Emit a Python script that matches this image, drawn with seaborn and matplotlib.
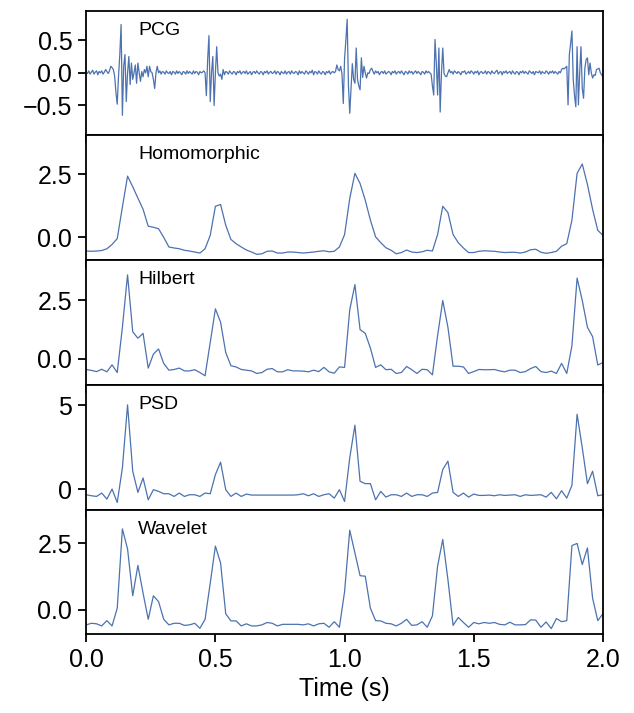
import matplotlib
matplotlib.use("Agg")
import matplotlib.pyplot as plt
import numpy as np
import pandas as pd
import seaborn as sns

# sample rates (Hz)
fs_pcg = 200
fs_env = 50

# raw PCG at 200 Hz
pcg = [
    0.02, -0.01, 0.03, -0.02, 0.01, 0.04, -0.02, 0.01, 0.03, -0.03, 0.02, 0.0, 0.03, -0.02, 0.01, 0.05, 0.02, -0.01, 0.03, 0.10,
    0.08, 0.05, -0.05, -0.30, -0.48, -0.05, 0.28, 0.74, -0.65, 0.10, 0.28, -0.44, 0.00, 0.25, -0.18, 0.15, -0.10, 0.00, 0.12, -0.16,
    0.15, 0.00, -0.13, 0.02, -0.06, 0.05, 0.00, 0.10, -0.06, 0.10, 0.02, 0.00, -0.10, -0.24, 0.00, 0.10, 0.00, 0.03, -0.02, 0.02,
    0.01, -0.02, 0.03, 0.0, -0.01, 0.02, -0.03, 0.02, 0.01, -0.02, 0.03, -0.01, 0.02, 0.0, -0.03, 0.02, 0.01, -0.02, 0.03, -0.01,
    0.02, 0.0, -0.02, 0.03, -0.01, 0.02, 0.01, -0.03, 0.02, 0.0, 0.01, 0.03, 0.00, -0.35, 0.20, 0.57, -0.44, 0.00, 0.25, -0.50,
    0.00, 0.40, 0.00, -0.05, -0.02, -0.10, 0.05, -0.03, 0.02, 0.01, -0.02, 0.03, 0.00, -0.02, 0.02, 0.01, -0.03, 0.02, 0.00, 0.03,
    -0.02, 0.01, 0.02, -0.01, 0.03, -0.02, 0.0, 0.02, -0.03, 0.01, 0.02, -0.01, 0.03, 0.0, -0.02, 0.02, 0.01, -0.03, 0.02, 0.0,
    0.03, -0.02, 0.01, 0.02, -0.01, 0.0, 0.03, -0.02, 0.02, 0.01, -0.03, 0.02, 0.0, -0.01, 0.03, -0.02, 0.01, 0.02, -0.02, 0.03,
    0.0, -0.01, 0.02, 0.01, -0.03, 0.03, -0.01, 0.02, 0.0, -0.02, 0.03, 0.01, -0.02, 0.02, 0.0, 0.04, -0.03, 0.02, 0.01, -0.02,
    0.03, 0.0, -0.02, 0.02, 0.01, -0.03, 0.02, 0.0, 0.03, -0.02, 0.01, 0.02, 0.0, 0.02, 0.12, 0.05, 0.03, 0.10, -0.02, -0.47,
    0.22, 0.50, 0.82, -0.20, -0.62, -0.25, 0.14, -0.10, -0.16, 0.38, -0.10, -0.20, -0.26, 0.23, -0.07, 0.10, 0.00, -0.08, 0.00, -0.01,
    0.05, 0.07, 0.02, -0.02, 0.03, 0.0, 0.02, -0.03, 0.01, 0.02, -0.01, 0.03, -0.02, 0.0, 0.02, 0.01, -0.03, 0.02, 0.0, 0.03,
    -0.02, 0.01, 0.02, -0.01, 0.03, 0.0, -0.03, 0.02, 0.01, -0.02, 0.03, 0.0, 0.02, -0.02, 0.01, 0.03, -0.01, 0.02, 0.0, -0.03,
    0.02, 0.01, -0.02, 0.03, 0.0, 0.02, 0.00, -0.02, -0.20, -0.34, 0.51, 0.15, -0.34, 0.38, -0.60, 0.00, 0.38, -0.01, -0.05, -0.06,
    0.00, 0.05, 0.00, 0.02, -0.02, 0.03, 0.01, -0.01, 0.02, 0.0, -0.03, 0.02, 0.01, 0.03, -0.02, 0.0, 0.02, -0.01, 0.03, 0.01,
    -0.02, 0.02, 0.0, 0.03, -0.03, 0.01, 0.02, -0.01, 0.0, 0.03, -0.02, 0.02, 0.01, -0.02, 0.03, 0.0, -0.01, 0.02, 0.04, -0.02,
    0.01, 0.02, -0.03, 0.02, 0.0, 0.03, -0.01, 0.01, 0.02, -0.02, 0.03, 0.0, -0.02, 0.02, 0.01, -0.03, 0.02, 0.0, 0.03, -0.01,
    0.02, 0.0, -0.02, 0.03, 0.01, -0.01, 0.02, -0.03, 0.02, 0.01, 0.0, 0.03, -0.02, 0.02, 0.0, -0.01, 0.03, 0.01, -0.02, 0.02,
    0.0, 0.03, -0.01, 0.02, 0.0, -0.02, 0.02, 0.00, 0.05, 0.07, 0.06, 0.08, 0.10, -0.49, 0.28, 0.45, 0.64, -0.10, -0.35, -0.52,
    0.40, -0.49, 0.00, 0.40, -0.24, -0.39, 0.07, 0.20, 0.23, -0.03, 0.15, 0.00, -0.08, -0.03, -0.04, 0.05, 0.06, 0.07, 0.00, -0.03,
    -0.06,
]

# envelopes at 50 Hz
homomorphic = [
    -0.54, -0.55, -0.54, -0.52, -0.45, -0.28, -0.05, 1.20, 2.42, 2.00,
    1.55, 1.11, 0.44, 0.40, 0.34, 0.00, -0.38, -0.42, -0.45, -0.51,
    -0.54, -0.58, -0.62, -0.45, 0.08, 1.23, 1.30, 0.48, -0.08, -0.25,
    -0.38, -0.50, -0.58, -0.67, -0.65, -0.55, -0.54, -0.62, -0.62, -0.58,
    -0.58, -0.60, -0.62, -0.60, -0.58, -0.55, -0.53, -0.57, -0.55, -0.38,
    0.11, 1.54, 2.53, 2.13, 1.47, 0.68, 0.02, -0.21, -0.41, -0.51,
    -0.65, -0.60, -0.50, -0.58, -0.60, -0.57, -0.51, -0.54, 0.11, 1.23,
    0.98, 0.11, -0.21, -0.42, -0.60, -0.60, -0.55, -0.53, -0.54, -0.55,
    -0.58, -0.60, -0.59, -0.59, -0.62, -0.58, -0.49, -0.47, -0.59, -0.63,
    -0.60, -0.55, -0.35, -0.25, 0.68, 2.53, 2.90, 2.09, 1.11, 0.28,
    0.08,
]

hilbert = [
    -0.46, -0.50, -0.55, -0.45, -0.56, -0.26, -0.59, 1.35, 3.60, 1.16,
    0.88, 1.09, -0.40, 0.20, 0.42, -0.20, -0.49, -0.46, -0.40, -0.52,
    -0.52, -0.47, -0.59, -0.73, 0.70, 2.14, 1.57, 0.27, -0.30, -0.35,
    -0.46, -0.49, -0.52, -0.63, -0.59, -0.45, -0.42, -0.56, -0.56, -0.47,
    -0.52, -0.52, -0.53, -0.56, -0.49, -0.55, -0.37, -0.56, -0.62, -0.35,
    -0.37, 2.10, 3.18, 1.25, 1.09, 0.46, -0.37, -0.26, -0.47, -0.45,
    -0.63, -0.59, -0.33, -0.47, -0.63, -0.45, -0.47, -0.69, 0.99, 2.50,
    1.35, -0.32, -0.32, -0.35, -0.63, -0.55, -0.46, -0.47, -0.47, -0.46,
    -0.52, -0.56, -0.49, -0.49, -0.59, -0.55, -0.42, -0.33, -0.55, -0.59,
    -0.53, -0.63, -0.20, -0.63, 0.56, 3.46, 2.50, 1.35, 0.95, -0.27,
    -0.16,
]

psd = [
    -0.34, -0.40, -0.44, -0.24, -0.60, 0.00, -0.80, 1.26, 5.01, 1.06,
    -0.20, 0.66, -0.64, -0.04, -0.14, -0.28, -0.28, -0.44, -0.24, -0.44,
    -0.34, -0.34, -0.44, -0.24, -0.28, 0.86, 1.60, -0.04, -0.44, -0.24,
    -0.44, -0.30, -0.36, -0.36, -0.36, -0.36, -0.36, -0.36, -0.36, -0.36,
    -0.36, -0.34, -0.28, -0.40, -0.28, -0.44, -0.34, -0.28, -0.54, -0.04,
    -0.74, 1.86, 3.80, 0.46, 0.32, 0.32, -0.64, -0.14, -0.48, -0.34,
    -0.34, -0.44, -0.24, -0.44, -0.34, -0.34, -0.44, -0.24, -0.20, 1.16,
    1.66, -0.20, -0.44, -0.24, -0.48, -0.30, -0.38, -0.38, -0.36, -0.40,
    -0.34, -0.38, -0.36, -0.34, -0.44, -0.34, -0.38, -0.36, -0.34, -0.48,
    -0.20, -0.58, -0.10, -0.54, 0.22, 4.45, 2.46, 0.32, 1.06, -0.40,
    -0.34,
]

wavelet = [
    -0.58, -0.52, -0.54, -0.62, -0.42, -0.62, 0.05, 3.05, 2.29, 0.52,
    1.67, 0.62, -0.37, 0.52, 0.30, -0.37, -0.58, -0.52, -0.52, -0.60,
    -0.58, -0.52, -0.71, -0.37, 1.00, 2.40, 1.76, -0.16, -0.43, -0.43,
    -0.62, -0.54, -0.62, -0.62, -0.58, -0.49, -0.52, -0.62, -0.56, -0.56,
    -0.56, -0.56, -0.58, -0.54, -0.62, -0.54, -0.52, -0.67, -0.46, -0.67,
    0.68, 3.00, 2.14, 1.28, 1.26, 0.05, -0.42, -0.43, -0.52, -0.54,
    -0.62, -0.52, -0.37, -0.60, -0.58, -0.46, -0.67, -0.24, 1.64, 2.65,
    1.13, -0.60, -0.30, -0.49, -0.67, -0.49, -0.54, -0.49, -0.52, -0.49,
    -0.56, -0.58, -0.48, -0.58, -0.58, -0.57, -0.39, -0.40, -0.67, -0.47,
    -0.72, -0.34, -0.46, -0.42, 2.42, 2.50, 1.70, 2.33, 0.43, -0.42,
    -0.16,
]

names = ["PCG", "Homomorphic", "Hilbert", "PSD", "Wavelet"]
series = [pcg, homomorphic, hilbert, psd, wavelet]
rates = [fs_pcg, fs_env, fs_env, fs_env, fs_env]
ylims = [(-0.95, 0.94), (-0.91, 4.05), (-1.12, 4.22), (-1.27, 6.2), (-0.92, 3.75)]
yticks = [[-0.5, 0.0, 0.5], [0.0, 2.5], [0.0, 2.5], [0, 5], [0.0, 2.5]]

sns.set_theme(style="ticks")
plt.rcParams["font.family"] = ["Liberation Sans", "DejaVu Sans"]
plt.rcParams["axes.linewidth"] = 1.3
plt.rcParams["axes.edgecolor"] = "black"
plt.rcParams["xtick.color"] = "black"
plt.rcParams["ytick.color"] = "black"
plt.rcParams["text.color"] = "black"
plt.rcParams["axes.labelcolor"] = "black"

fig, axes = plt.subplots(5, 1, sharex=True, figsize=(6.34, 7.13), dpi=100,
                         gridspec_kw={"height_ratios": [123, 125, 124, 125, 123]})
fig.subplots_adjust(left=0.136, right=0.951, top=0.984, bottom=0.111, hspace=0)

for ax, name, vals, fs, yl, yt in zip(axes, names, series, rates, ylims, yticks):
    df = pd.DataFrame({"t": np.arange(len(vals)) / fs, "v": vals})
    sns.lineplot(data=df, x="t", y="v", ax=ax, color="#4c72b0", linewidth=0.9)
    ax.set_ylim(*yl)
    ax.set_yticks(yt)
    if name == "PSD":
        ax.set_yticklabels(["0", "5"])
    ax.set_ylabel("")
    ax.set_xlabel("")
    ax.tick_params(axis="both", labelsize=18, length=6, width=1.3, pad=4)
    ax.text(0.1, 0.915, name, transform=ax.transAxes, fontsize=14,
            va="top", ha="left", color="black")

axes[-1].set_xlim(0, 2)
axes[-1].set_xticks([0.0, 0.5, 1.0, 1.5, 2.0])
axes[-1].set_xlabel("Time (s)", fontsize=18, labelpad=4, color="black")

fig.savefig("out.png", dpi=100)
